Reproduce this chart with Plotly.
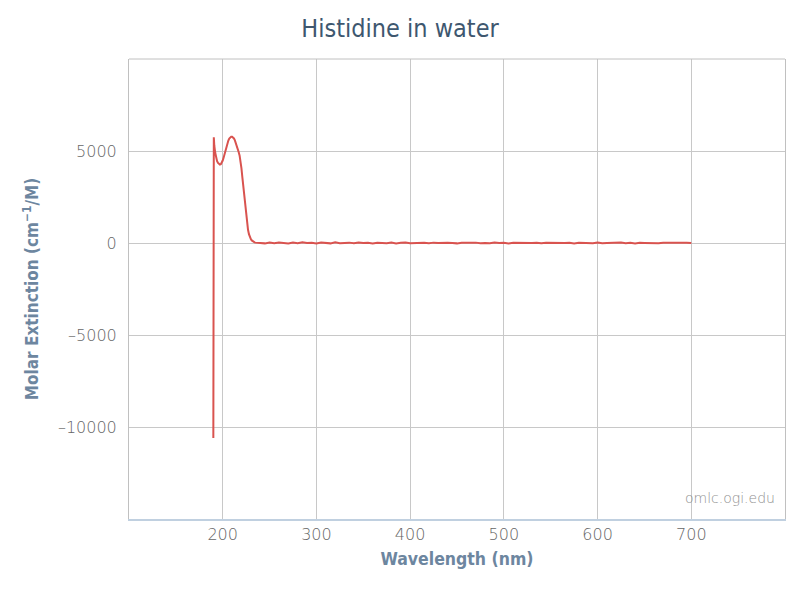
import plotly.graph_objects as go

# Peak region (nm, molar extinction cm^-1/M)
wl_peak = [190, 190.5, 191, 192, 193, 194, 195, 196, 197, 198, 199, 200,
           201, 202, 203, 204, 205, 206, 207, 208, 209, 210, 211, 212,
           213, 214, 215, 216, 217, 218, 219, 220, 221, 222, 223, 224,
           225, 226, 227, 228, 229, 230, 231, 232, 233, 234, 235]
eps_peak = [-10600, 5750, 5300, 4900, 4600, 4450, 4350, 4300, 4260, 4280, 4350, 4480,
            4650, 4850, 5050, 5250, 5420, 5570, 5680, 5740, 5770, 5770, 5740, 5680,
            5580, 5450, 5300, 5130, 4950, 4760, 4450, 4050, 3550, 3050, 2500, 1950,
            1450, 1050, 720, 480, 320, 210, 140, 90, 55, 35, 20]

# Baseline region, every 5 nm
wl_flat = list(range(240, 701, 5))
eps_flat = [10, -20, 25, -15, 30, 5, -25, 20, -10, 35,
            -5, 15, -30, 25, 10, -20, 40, -10, 5, 20,
            -15, 30, -5, 10, -25, 15, 5, -10, 20, -20,
            10, 25, -15, 5, -5, 15, -10, 20, 0, -15,
            10, 5, -20, 15, -5, 10, 20, -10, 5, -15,
            25, -5, 10, -20, 15, 5, -10, 20, -5, 10,
            -15, 15, 5, -10, 20, -5, 10, -20, 15, 0,
            10, -10, 20, -15, 5, 15, -5, 25, -10, 10,
            -20, 15, 5, -5, 20, -10, 10, 15, -15, 5,
            -5, 10, 0]

x_vals = wl_peak + wl_flat
y_vals = eps_peak + eps_flat[:len(wl_flat)]

x_ticks = [200, 300, 400, 500, 600, 700]
y_ticks = [-10000, -5000, 0, 5000]
y_tick_text = ["\u201310000", "\u20135000", "0", "5000"]

cond = "DejaVu Sans Condensed, DejaVu Sans, sans-serif"
light = "DejaVu Sans, sans-serif"
axis_title_color = "#6d869f"

fig = go.Figure()
fig.add_trace(go.Scatter(x=x_vals, y=y_vals, mode="lines",
                         line=dict(color="#d9534f", width=2),
                         showlegend=False, hoverinfo="skip"))

fig.update_layout(
    width=800, height=593,
    margin=dict(l=129, r=15, t=59, b=74),
    paper_bgcolor="white", plot_bgcolor="white",
    title=dict(text="Histidine in water", x=0.5, xanchor="center",
               y=0.953, yanchor="middle",
               font=dict(family=cond, size=25, color="#3e576f")),
    xaxis=dict(range=[100, 800], tickvals=x_ticks,
               ticktext=[str(v) for v in x_ticks],
               showgrid=True, gridcolor="#c8c8c8", gridwidth=1,
               zeroline=False, showline=True, linecolor="#c0d0e0", linewidth=2,
               ticks="", tickfont=dict(family=light, size=16, weight=200, color="#666666"),
               title=dict(text="<b>Wavelength (nm)</b>", standoff=10,
                          font=dict(family=cond, size=17.5, color=axis_title_color))),
    yaxis=dict(range=[-15000, 10000], tickvals=y_ticks,
               ticktext=y_tick_text,
               showgrid=True, gridcolor="#c8c8c8", gridwidth=1,
               zeroline=False, showline=True, mirror=True,
               linecolor="#c0c0c0", linewidth=1,
               ticks="", ticklabelstandoff=8,
               tickfont=dict(family=light, size=16, weight=200, color="#666666"),
               title=dict(text="<b>Molar Extinction (cm<sup>\u22121</sup>/M)</b>", standoff=14,
                          font=dict(family=cond, size=17, color=axis_title_color))),
    shapes=[dict(type="line", xref="paper", yref="paper", x0=0, x1=1, y0=1, y1=1,
                 line=dict(color="#c0c0c0", width=1))],
    annotations=[dict(text="omlc.ogi.edu", xref="paper", yref="paper",
                      x=0.988, y=0.045, xanchor="right", yanchor="middle",
                      showarrow=False,
                      font=dict(family=light, size=14, weight=200, color="#909090"))],
)

fig.write_html("out.html", post_script="document.body.style.margin='0';",
               config={"displayModeBar": False})
